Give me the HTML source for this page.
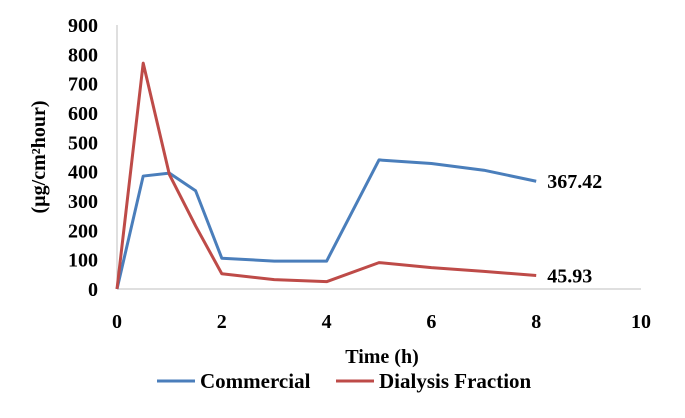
<!DOCTYPE html>
<html><head><meta charset="utf-8"><style>
body{margin:0;background:#fff;}
svg text{font-family:"Liberation Serif",serif;font-weight:bold;fill:#000;}
</style></head><body>
<svg width="685" height="413" xmlns="http://www.w3.org/2000/svg" id="chart">
<g id="axes"></g><g id="series"></g>
<text x="45" y="157" font-size="20" text-anchor="middle" transform="rotate(-90 45 157)">(µg/cm²hour)</text>
<text x="382" y="363" font-size="20" text-anchor="middle">Time (h)</text>
<g>
<line x1="157" y1="381" x2="195" y2="381" stroke="#4a7ebb" stroke-width="3"/>
<text x="200" y="388" font-size="21">Commercial</text>
<line x1="336" y1="381" x2="374" y2="381" stroke="#be4b48" stroke-width="3"/>
<text x="379" y="388" font-size="21">Dialysis Fraction</text>
</g>
</svg>
<script>
const times=[0,0.5,1,1.5,2,3,4,5,6,7,8];
const commercial=[0,385,395,335,105,95,95,440,428,405,367.42];
const dialysis=[0,770,390,215,52,32,25,90,73,60,45.93];
const yTicks=[0,100,200,300,400,500,600,700,800,900];
const xTicks=[0,2,4,6,8,10];
const NS="http://www.w3.org/2000/svg";
const x=v=>117+v*52.4;
const y=v=>289-v*264/900;
function mk(t,a,p){const e=document.createElementNS(NS,t);for(const k in a)e.setAttribute(k,a[k]);p.appendChild(e);return e;}
const ax=document.getElementById('axes');
const yl=mk('line',{x1:x(0),y1:y(0),x2:x(0),y2:y(900),stroke:'#bfbfbf','stroke-width':1},ax);


const xl=mk('line',{x1:x(0),y1:y(0),x2:x(10),y2:y(0),stroke:'#bfbfbf','stroke-width':1},ax);


yTicks.forEach(v=>{const t=mk('text',{x:98,y:y(v)+7,'font-size':20,'text-anchor':'end'},ax);t.textContent=v;

});
xTicks.forEach(v=>{const t=mk('text',{x:x(v),y:328,'font-size':20,'text-anchor':'middle'},ax);t.textContent=v;

});
const sg=document.getElementById('series');
function line(vals,color,name){const p=mk('polyline',{points:vals.map((v,i)=>x(times[i])+','+y(v)).join(' '),fill:'none',stroke:color,'stroke-width':3,'stroke-linejoin':'round'},sg);


const last=vals.length-1;const t=mk('text',{x:x(times[last])+11,y:y(vals[last])+7,'font-size':20},sg);t.textContent=vals[last].toFixed(2);

}
line(commercial,'#4a7ebb','series-commercial');
line(dialysis,'#be4b48','series-dialysis');
</script>
</body></html>
